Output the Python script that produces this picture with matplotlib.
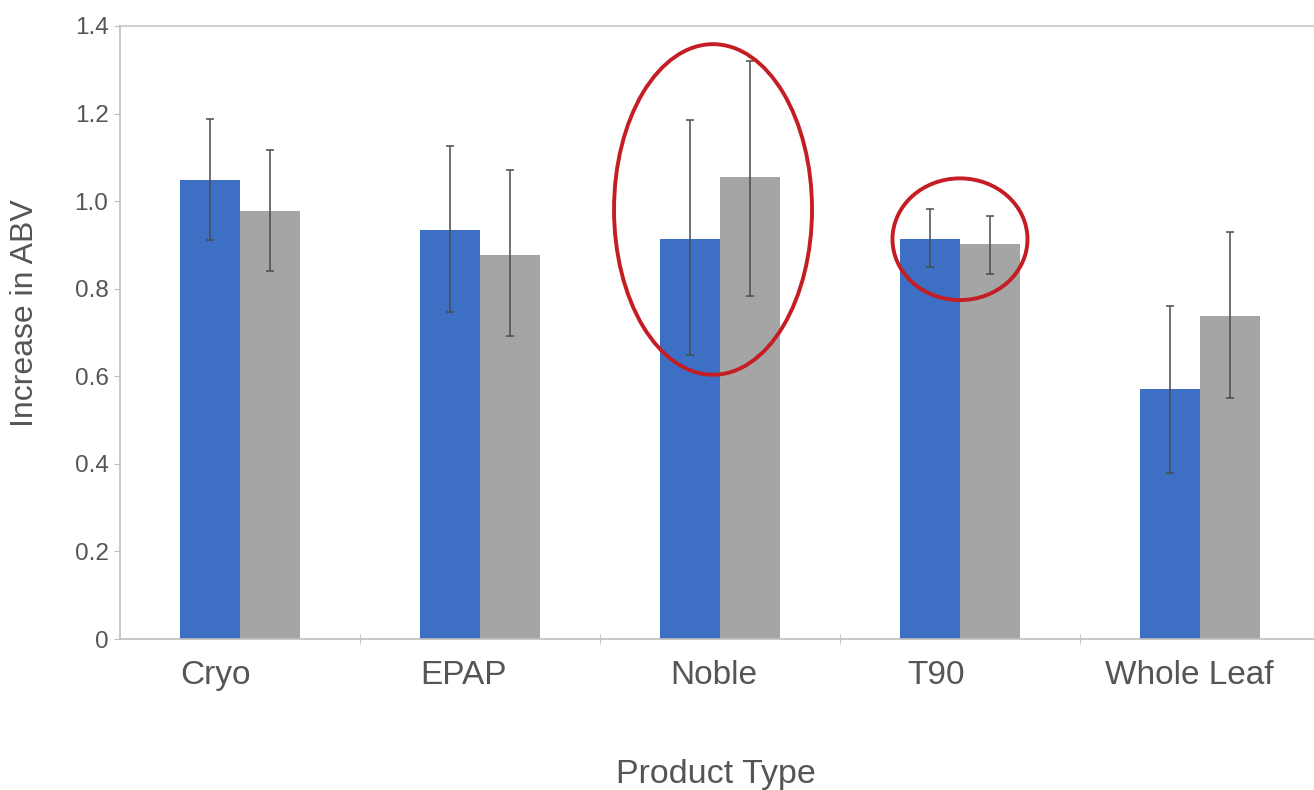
import matplotlib.pyplot as plt
from matplotlib.patches import Ellipse
import numpy as np

plt.rcParams["font.family"] = ["Liberation Sans", "DejaVu Sans"]

categories = ["Cryo", "EPAP", "Noble", "T90", "Whole Leaf"]
# the category labels in the source sit a little left of the bar pairs
label_shift = [-0.10, -0.067, -0.025, -0.096, -0.042]
blue_vals = [1.049, 0.935, 0.914, 0.914, 0.571]
blue_lo = [0.912, 0.747, 0.648, 0.850, 0.380]
blue_hi = [1.187, 1.125, 1.185, 0.983, 0.761]
gray_vals = [0.978, 0.878, 1.054, 0.903, 0.738]
gray_lo = [0.841, 0.692, 0.784, 0.834, 0.550]
gray_hi = [1.116, 1.070, 1.320, 0.967, 0.930]

# highlight ellipses: (x centre, y centre, width, height) in data units
circle_x = [1.973, 3.002]
circle_y = [0.981, 0.913]
circle_w = [0.825, 0.5625]
circle_h = [0.755, 0.278]

text_col = "#555555"
spine_col = "#bfbfbf"

fig = plt.figure(figsize=(13.14, 7.9), dpi=100)
ax = fig.add_axes([119.5 / 1314, 1 - 639 / 790, 1200 / 1314, 613 / 790])

x = np.arange(len(categories))
w = 0.25
bv = np.array(blue_vals)
gv = np.array(gray_vals)
err_kw = dict(ecolor="#4a4a4a", elinewidth=1.1, capsize=3, capthick=1.1)
ax.bar(x - w / 2, bv, w, color="#3d6fc4",
       yerr=[bv - np.array(blue_lo), np.array(blue_hi) - bv], error_kw=err_kw, zorder=2)
ax.bar(x + w / 2, gv, w, color="#a5a5a5",
       yerr=[gv - np.array(gray_lo), np.array(gray_hi) - gv], error_kw=err_kw, zorder=2)

for cx, cy, cw, ch in zip(circle_x, circle_y, circle_w, circle_h):
    ax.add_patch(Ellipse((cx, cy), cw, ch, fill=False, edgecolor="#c41e24",
                         linewidth=2.8, zorder=4, clip_on=False))

ax.set_xlim(-0.5, 4.5)
ax.set_ylim(0, 1.4)
ax.set_yticks(np.arange(0, 1.41, 0.2))
ax.set_yticklabels(["0"] + [f"{v:.1f}" for v in np.arange(0.2, 1.41, 0.2)])
ax.set_xticks(x + np.array(label_shift))
ax.set_xticklabels(categories)
ax.set_xticks(np.arange(0.5, 4.0, 1.0), minor=True)
ax.tick_params(axis="x", which="major", length=0, pad=15, labelsize=24, labelcolor=text_col)
ax.tick_params(axis="x", which="minor", length=7, direction="inout", color=spine_col)
ax.tick_params(axis="y", length=4, color=spine_col, labelsize=17.5, labelcolor=text_col, pad=4)

ax.axhline(1.4, color="#d0d0d0", linewidth=1.5, zorder=1, clip_on=False)
for s in ["top", "right"]:
    ax.spines[s].set_visible(False)
for s in ["left", "bottom"]:
    ax.spines[s].set_color(spine_col)
    ax.spines[s].set_linewidth(1.2)

fig.text(25 / 1314, 1 - 313 / 790, "Increase in ABV", rotation=90, ha="center",
         va="center", fontsize=23, color=text_col)
fig.text(716 / 1314, 1 - 783 / 790, "Product Type", ha="center", va="baseline",
         fontsize=24.5, color=text_col)

fig.savefig("out.png", dpi=100)
